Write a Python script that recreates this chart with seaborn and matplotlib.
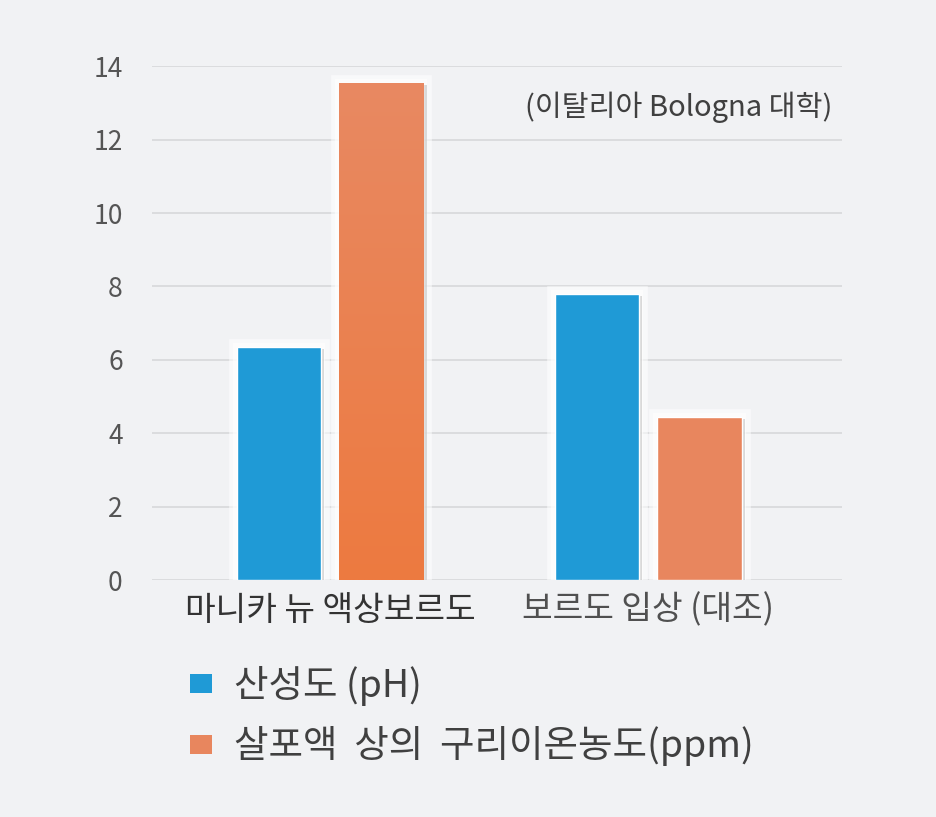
import numpy as np
import pandas as pd
import matplotlib
matplotlib.use("Agg")
import matplotlib.pyplot as plt
import matplotlib.patheffects as pe
from matplotlib.patches import Patch
import seaborn as sns

# 데이터
categories = ["마니카 뉴 액상보르도", "보르도 입상 (대조)"]
series = ["산성도 (pH)", "살포액  상의  구리이온농도(ppm)"]
ph_values = [6.35, 7.8]
copper_values = [13.55, 4.45]
yticks = [0, 2, 4, 6, 8, 10, 12, 14]

df = pd.DataFrame({
    "category": categories * 2,
    "series": [series[0]] * 2 + [series[1]] * 2,
    "value": ph_values + copper_values,
})

bg = "#f1f2f4"
blue = "#1f9ad6"
orange = "#e8865e"

sns.set_theme(style="white")
plt.rcParams["font.family"] = ["Noto Sans CJK KR", "DejaVu Sans"]

fig = plt.figure(figsize=(9.37, 8.17), dpi=100, facecolor=bg)
ax = fig.add_axes([0.162, 0.29, 0.737, 0.629])
ax.set_facecolor(bg)

sns.barplot(data=df, x="category", y="value", hue="series",
            palette=[blue, orange], width=0.645, gap=0.18,
            saturation=1, ax=ax, legend=False)

# 막대 주변 흰색 후광 + 그림자
for p in ax.patches:
    p.set_path_effects([
        pe.Stroke(linewidth=12, foreground="white", alpha=0.55),
        pe.Stroke(linewidth=6, foreground="white", alpha=0.6),
        pe.SimplePatchShadow(offset=(2.5, -1.5), shadow_rgbFace="#888888", alpha=0.3),
        pe.Normal(),
    ])
    p.set_zorder(3)

# 첫 번째 주황 막대 그라데이션
tall = max(ax.patches[:4], key=lambda p: p.get_height())
x0, w, h = tall.get_x(), tall.get_width(), tall.get_height()
grad = np.linspace(0, 1, 256).reshape(-1, 1)
top_c = np.array([232, 137, 98]) / 255
bot_c = np.array([237, 122, 64]) / 255
img = top_c[None, None, :] * (1 - grad[:, :, None]) + bot_c[None, None, :] * grad[:, :, None]
im = ax.imshow(img, extent=[x0, x0 + w, h, 0], aspect="auto", zorder=4, origin="lower")
im.set_clip_path(tall)

ax.set_xlim(-0.56, 1.61)
ax.set_ylim(0, 14)
ax.set_yticks(yticks)
ax.grid(axis="y", color="#d7d8da", linewidth=1.2, zorder=0)
ax.set_axisbelow(True)
for s in ax.spines.values():
    s.set_visible(False)
ax.tick_params(axis="y", length=0, pad=21, labelsize=19, labelcolor="#555555")
ax.tick_params(axis="x", length=0, pad=9, labelsize=24)
ax.set_xlabel("")
ax.set_ylabel("")
xt = ax.get_xticklabels()
xt[0].set_color("#333333")
xt[1].set_color("#505050")

ax.text(0.985, 0.92, "(이탈리아 Bologna 대학)", transform=ax.transAxes,
        ha="right", va="center", fontsize=21, color="#404040", fontweight="light")

handles = [Patch(facecolor=blue, edgecolor="none"), Patch(facecolor=orange, edgecolor="none")]
fig.legend(handles, series, loc="upper left", bbox_to_anchor=(0.203, 0.185),
           frameon=False, fontsize=27, handlelength=0.57, handleheight=0.4,
           handletextpad=0.6, labelspacing=0.55, borderpad=0, borderaxespad=0,
           labelcolor="#404040")

fig.savefig("out.png", dpi=100, facecolor=bg)
